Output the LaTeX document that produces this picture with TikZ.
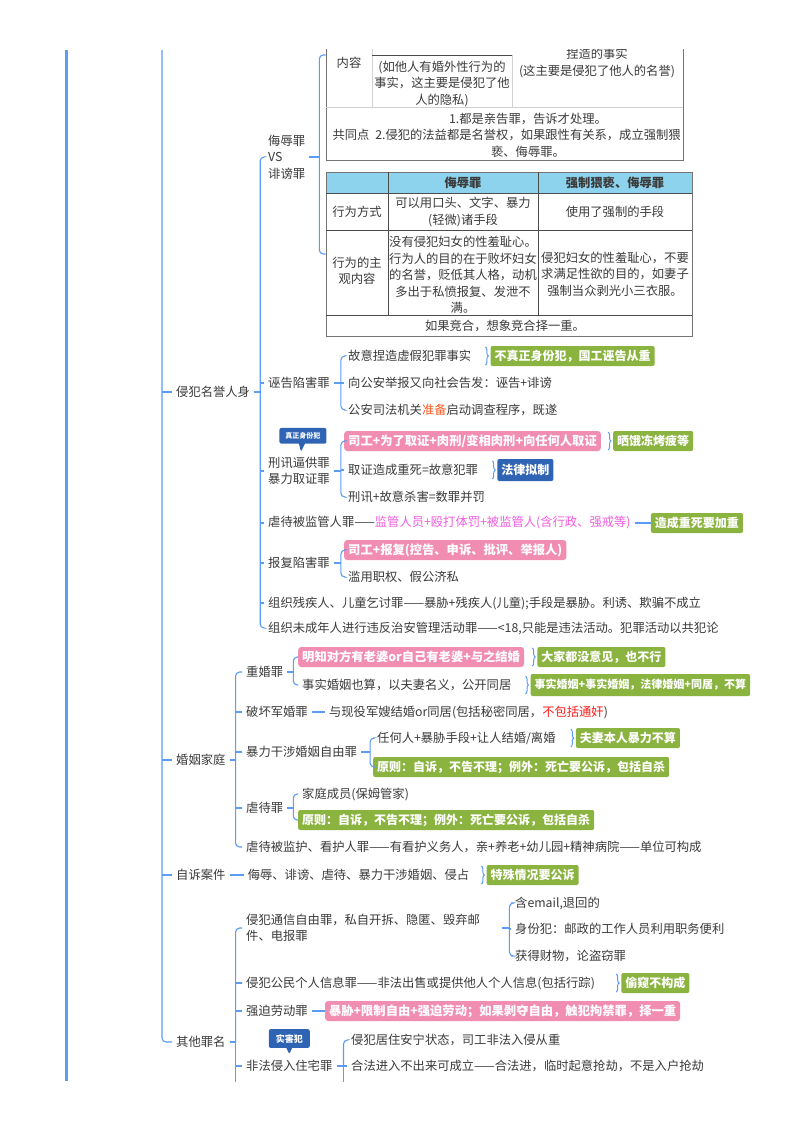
\documentclass[tikz,border=0pt]{standalone}
\usepackage{fontspec}
\setmainfont{Noto Sans CJK SC}
\usepackage{xcolor}
\usepackage{tikz}
\usetikzlibrary{positioning,calc,shapes.callouts,decorations.pathreplacing}

\definecolor{ink}{HTML}{3A3A3A}
\definecolor{ln}{HTML}{5A9CF6}
\definecolor{grn}{HTML}{8AB33F}
\definecolor{pnk}{HTML}{F28DB2}
\definecolor{cbl}{HTML}{2F64B4}
\definecolor{mag}{HTML}{F25CE0}
\definecolor{org}{HTML}{FF5A1F}
\definecolor{rd}{HTML}{FF1A1A}
\definecolor{hdr}{HTML}{8ED3EE}

\begin{document}
\begin{tikzpicture}[
x=1pt, y=-1pt,
font=\fontsize{12.3}{16.5}\selectfont,
txt/.style={anchor=west, align=left, inner xsep=4pt, inner ysep=1pt, text=ink},
cell/.style={align=center, inner sep=1pt, text=ink},
hcell/.style={cell, font=\fontsize{12.3}{16.5}\selectfont\bfseries},
gbox/.style={anchor=west, fill=grn, text=white, rounded corners=2pt, inner xsep=4pt, inner ysep=2pt, minimum height=20pt, font=\fontsize{12}{15}\selectfont\bfseries},
gsm/.style={gbox, minimum height=22pt, font=\fontsize{11}{13}\selectfont\bfseries},
pbox/.style={gbox, fill=pnk, rounded corners=3pt, font=\fontsize{12.3}{15}\selectfont\bfseries},
lbox/.style={gbox, fill=cbl, minimum height=22pt},
tag/.style={rectangle callout, fill=cbl, text=white, rounded corners=2pt, inner xsep=6pt, inner ysep=4.5pt, callout pointer width=6pt, font=\fontsize{7}{8}\selectfont\bfseries},
tbl/.style={draw=black!55, line width=1pt, inner sep=0pt},
gline/.style={draw=black!18, line width=0.6pt},
tline/.style={draw=black!70, line width=0.8pt},
spine/.style={draw=ln, line width=3pt},
br/.style={draw=ln, line width=1.1pt},
rc/.style={rounded corners=4pt},
brc/.style={br, line width=1pt, decorate, decoration={brace, amplitude=3pt}}
]
\path[fill=white] (0,0) rectangle (800,1132);
\begin{scope}
\clip (0,50) rectangle (800,1081);

% --- spine and first level ---
\coordinate (top0) at (66,50);
\coordinate (bot0) at (66,1081);
\draw[spine] (top0) -- (bot0);
\coordinate (b0) at (162,50);

\node[txt] (qf) at (172,392) {侵犯名誉人身};
\node[txt] (hy) at (172,760) {婚姻家庭};
\node[txt] (zs) at (172,875) {自诉案件};
\node[txt] (qt) at (172,1042) {其他罪名};

\draw[br] (qf.west) -- (qf.west -| b0);
\draw[br] (hy.west) -- (hy.west -| b0);
\draw[br] (zs.west) -- (zs.west -| b0);
\draw[br, rc] (qt.west) -| (b0);

% --- 侵犯名誉人身 ---
\coordinate (qfb) at ($(qf.east)+(6,0)$);
\draw[br] (qf.east) -- (qfb);
\node[txt] (vs) at (264,157) {侮辱罪\\VS\\诽谤罪};
\node[txt] (wg) at (264,383) {诬告陷害罪};
\node[txt, align=center] (xx) at (264,471) {刑讯逼供罪\\暴力取证罪};
\node[txt] (nd) at (264,523) {虐待被监管人罪——\textcolor{mag}{监管人员+殴打体罚+被监管人(含行政、强戒等)}};
\node[txt] (bf) at (264,563) {报复陷害罪};
\node[txt] (zc) at (264,603) {组织残疾人、儿童乞讨罪——暴胁+残疾人(儿童);手段是暴胁。利诱、欺骗不成立};
\node[txt] (zw) at (264,628) {组织未成年人进行违反治安管理活动罪——<18,只能是违法活动。犯罪活动以共犯论};
\draw[br, rc] (vs.west) -| (qfb);
\foreach \n in {wg,xx,nd,bf,zc} \draw[br] (\n.west) -- (\n.west -| qfb);
\draw[br, rc] (zw.west) -| (qfb);

% --- table: 内容 / 共同点 ---
\node[tbl, minimum width=357pt, minimum height=210pt] (tb1) at (504.5,55) {};
\draw[gline] (326,107) -- (683,107);
\draw[gline] (372,-50) -- (372,107);
\draw[gline] (512,55) -- (512,107);
\draw[tline] (372,55) -- (512,55);
\node[cell] (c-nr) at (349,63) {内容};
\node[cell] (c-ys) at (442,84) {(如他人有婚外性行为的\\事实，这主要是侵犯了他\\人的隐私)};
\node[cell] (c-fb) at (597,63) {捏造的事实\\(这主要是侵犯了他人的名誉)};
\node[cell] (c-gt) at (351,135) {共同点};
\node[cell] (c-gd) at (528,135) {1.都是亲告罪，告诉才处理。\\2.侵犯的法益都是名誉权，如果跟性有关系，成立强制猥\\亵、侮辱罪。};

% --- table: 侮辱罪 / 强制猥亵、侮辱罪 ---
\fill[hdr] (326,172) rectangle (692,193);
\node[tbl, minimum width=366pt, minimum height=164pt] (tb2) at (509,254) {};
\draw[tline] (326,193) -- (692,193);
\draw[tline] (326,230) -- (692,230);
\draw[tline] (326,315) -- (692,315);
\draw[tline] (388,172) -- (388,315);
\draw[tline] (538,172) -- (538,315);
\node[hcell] (h1) at (463,183) {侮辱罪};
\node[hcell] (h2) at (615,183) {强制猥亵、侮辱罪};
\node[cell] (r1a) at (357,212) {行为方式};
\node[cell] (r1b) at (463,212) {可以用口头、文字、暴力\\(轻微)诸手段};
\node[cell] (r1c) at (615,212) {使用了强制的手段};
\node[cell] (r2a) at (357,271) {行为的主\\观内容};
\node[cell] (r2b) at (463,275) {没有侵犯妇女的性羞耻心。\\行为人的目的在于败坏妇女\\的名誉，贬低其人格，动机\\多出于私愤报复、发泄不\\满。};
\node[cell] (r2c) at (615,274) {侵犯妇女的性羞耻心，不要\\求满足性欲的目的，如妻子\\强制当众剥光小三衣服。};
\node[cell] (r3) at (505,326) {如果竞合，想象竞合择一重。};

\coordinate (vsb) at ($(vs.east)+(10,0)$);
\draw[br] (vs.east) -- (vsb);
\draw[br, rc] (tb1.west) -| (vsb);
\draw[br, rc] (tb2.west) -| (vsb);

% --- 诬告陷害罪 ---
\coordinate (wgb) at ($(wg.east)+(7,0)$);
\draw[br] (wg.east) -- (wgb);
\node[txt] (wg1) at (344,356) {故意捏造虚假犯罪事实};
\node[txt] (wg2) at (344,383) {向公安举报又向社会告发：诬告+诽谤};
\node[txt] (wg3) at (344,410) {公安司法机关\textcolor{org}{准备}启动调查程序，既遂};
\draw[br, rc] (wg1.west) -| (wgb);
\draw[br] (wg2.west) -- (wg2.west -| wgb);
\draw[br, rc] (wg3.west) -| (wgb);
\node[gbox, right=15pt of wg1] (wg1g) {不真正身份犯，国工诬告从重};

% --- 刑讯逼供罪 ---
\node[tag, above=12pt of xx, xshift=4pt, callout absolute pointer={($(xx.north)+(2,-4)$)}] (xxt) {真正身份犯};
\coordinate (xxb) at ($(xx.east)+(7,0)$);
\draw[br] (xx.east) -- (xxb);
\node[pbox] (xx1) at (344,441) {司工+为了取证+肉刑/变相肉刑+向任何人取证};
\node[txt] (xx2) at (344,470) {取证造成重死=故意犯罪};
\node[txt] (xx3) at (344,497) {刑讯+故意杀害=数罪并罚};
\draw[br, rc] (xx1.west) -| (xxb);
\draw[br] (xx2.west) -- (xx2.west -| xxb);
\draw[br, rc] (xx3.west) -| (xxb);
\node[gbox, right=12pt of xx1] (xx1g) {晒饿冻烤疲等};
\node[lbox, right=15pt of xx2] (xx2g) {法律拟制};

% --- 虐待被监管人罪 ---
\node[gbox, right=16pt of nd] (ndg) {造成重死要加重};
\draw[br] (nd.east) -- (ndg.west);

% --- 报复陷害罪 ---
\coordinate (bfb) at ($(bf.east)+(7,0)$);
\draw[br] (bf.east) -- (bfb);
\node[pbox] (bf1) at (344,550) {司工+报复(控告、申诉、批评、举报人)};
\node[txt] (bf2) at (344,577) {滥用职权、假公济私};
\draw[br, rc] (bf1.west) -| (bfb);
\draw[br, rc] (bf2.west) -| (bfb);

% --- 婚姻家庭 ---
\coordinate (hyb) at ($(hy.east)+(6,0)$);
\draw[br] (hy.east) -- (hyb);
\node[txt] (ch) at (242,672) {重婚罪};
\node[txt] (pj) at (242,712) {破坏军婚罪};
\node[txt] (bl) at (242,752) {暴力干涉婚姻自由罪};
\node[txt] (nv) at (242,808) {虐待罪};
\node[txt] (jh) at (242,847) {虐待被监护、看护人罪——有看护义务人，亲+养老+幼儿园+精神病院——单位可构成};
\draw[br, rc] (ch.west) -| (hyb);
\foreach \n in {pj,bl,nv} \draw[br] (\n.west) -- (\n.west -| hyb);
\draw[br, rc] (jh.west) -| (hyb);

\coordinate (chb) at ($(ch.east)+(6,0)$);
\draw[br] (ch.east) -- (chb);
\node[pbox] (ch1) at (298,657) {明知对方有老婆or自己有老婆+与之结婚};
\node[txt] (ch2) at (298,685) {事实婚姻也算，以夫妻名义，公开同居};
\draw[br, rc] (ch1.west) -| (chb);
\draw[br, rc] (ch2.west) -| (chb);
\node[gbox, right=13pt of ch1] (ch1g) {大家都没意见，也不行};
\node[gsm, right=15pt of ch2] (ch2g) {事实婚姻+事实婚姻，法律婚姻+同居，不算};

\node[txt, right=13pt of pj] (pj1) {与现役军嫂结婚or同居(包括秘密同居，\textcolor{rd}{不包括通奸})};
\draw[br] (pj.east) -- (pj1.west);

\coordinate (blb) at ($(bl.east)+(9,0)$);
\draw[br] (bl.east) -- (blb);
\node[txt] (bl1) at (373,738) {任何人+暴胁手段+让人结婚/离婚};
\node[gbox] (bl2) at (373,767) {原则：自诉，不告不理；例外：死亡要公诉，包括自杀};
\draw[br, rc] (bl1.west) -| (blb);
\draw[br, rc] (bl2.west) -| (blb);
\node[gbox, right=16pt of bl1] (bl1g) {夫妻本人暴力不算};

\coordinate (nvb) at ($(nv.east)+(6,0)$);
\draw[br] (nv.east) -- (nvb);
\node[txt] (nv1) at (298,794) {家庭成员(保姆管家)};
\node[gbox] (nv2) at (298,820) {原则：自诉，不告不理；例外：死亡要公诉，包括自杀};
\draw[br, rc] (nv1.west) -| (nvb);
\draw[br, rc] (nv2.west) -| (nvb);

% --- 自诉案件 ---
\node[txt, right=14pt of zs] (zs1) {侮辱、诽谤、虐待、暴力干涉婚姻、侵占};
\draw[br] (zs.east) -- (zs1.west);
\node[gbox, right=13pt of zs1] (zs1g) {特殊情况要公诉};

% --- 其他罪名 ---
\coordinate (qtb) at ($(qt.east)+(6,0)$);
\draw[br] (qt.east) -- (qtb);
\node[txt, text width=252pt] (tx) at (242,928) {侵犯通信自由罪，私自开拆、隐匿、毁弃邮\\件、电报罪};
\node[txt] (gr) at (242,983) {侵犯公民个人信息罪——非法出售或提供他人个人信息(包括行踪)};
\node[txt] (qp) at (242,1011) {强迫劳动罪};
\node[txt] (fq) at (242,1066) {非法侵入住宅罪};
\draw[br, rc] (tx.west) -| (qtb);
\foreach \n in {gr,qp,fq} \draw[br] (\n.west) -- (\n.west -| qtb);
\draw[br] (qtb) -- ++(0,60);

\coordinate (txb) at ($(tx.east)+(7,0)$);
\draw[br] (tx.east) -- (txb);
\node[txt] (tx1) at (511,903) {含email,退回的};
\node[txt] (tx2) at (511,929) {身份犯：邮政的工作人员利用职务便利};
\node[txt] (tx3) at (511,956) {获得财物，论盗窃罪};
\draw[br, rc] (tx1.west) -| (txb);
\draw[br] (tx2.west) -- (tx2.west -| txb);
\draw[br, rc] (tx3.west) -| (txb);

\node[gbox, right=22pt of gr] (grg) {偷窥不构成};

\node[pbox, right=13pt of qp] (qp1) {暴胁+限制自由+强迫劳动；如果剥夺自由，触犯拘禁罪，择一重};
\draw[br] (qp.east) -- (qp1.west);

\node[tag, font=\fontsize{9}{10}\selectfont\bfseries, inner xsep=7pt, inner ysep=5pt, above=11pt of fq, callout absolute pointer={($(fq.north)+(0,-5)$)}] (fqt) {实害犯};
\coordinate (fqb) at ($(fq.east)+(7,0)$);
\draw[br] (fq.east) -- (fqb);
\node[txt] (fq1) at (347,1040) {侵犯居住安宁状态，司工非法入侵从重};
\node[txt] (fq2) at (347,1066) {合法进入不出来可成立——合法进，临时起意抢劫，不是入户抢劫};
\draw[br, rc] (fq1.west) -| (fqb);
\draw[br] (fq2.west) -- (fq2.west -| fqb);
\draw[br] (fqb) -- ++(0,40);

% --- braces before the notes ---
\foreach \g in {wg1g,xx1g,xx2g,ch1g,ch2g,bl1g,zs1g,grg}
  \draw[brc] ([xshift=-5pt,yshift=9pt]\g.west) -- ([xshift=-5pt,yshift=-9pt]\g.west);

\end{scope}
\end{tikzpicture}
\end{document}
